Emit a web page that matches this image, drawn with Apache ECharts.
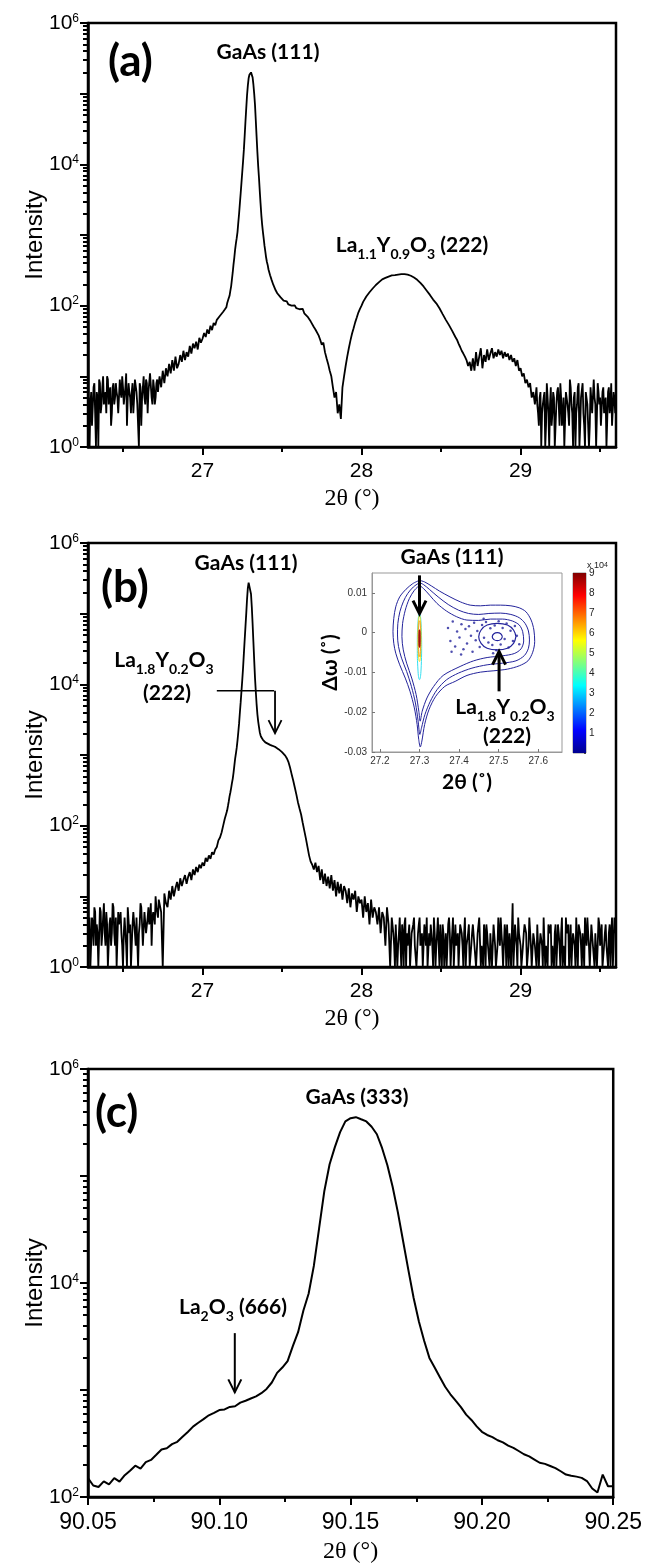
<!DOCTYPE html>
<html><head><meta charset="utf-8">
<script src="https://cdn.jsdelivr.net/npm/echarts@6.0.0/dist/echarts.min.js"></script>
<style>html,body{margin:0;padding:0;background:#fff}#c{width:645px;height:1567px}</style>
</head><body><div id="c"></div>
<script>
// ===================== DATA =====================
// Panel (a): 2theta scan, sampling grid (start, step) + intensities
const aLeftStart = 26.28, aLeftStep = 0.01;
const aLeftY = [3,1,
 6,2,8,1,5,9,3,7,4,6,
 10,4,7,3,8,5,6,3,9,5,
 7,4,11,5,6,3,8,5,9,4,
 1,7,5,10,4,8,6,11,5,9,
 4,8,6,10,7,12,8,13,10,15,
 11,17,12,19,13,15,20,16,23,17,
 22,19,27,21,29,25,31,24,35,30,
 34,41,36,46,40,52,45,57,53,63,
 66,72,76,82,88];
const aLeftMidStart = 26.285, aLeftMidStep = 0.01;
const aLeftMidY = [5,4,2,7,3,6,1,8,4,10, 5,3,9,6,2,7,4,8,5,3, 6,10,4,7,2,8,5,6,3,9, 6,4,8,2,7,5,9,3,6,11, 4,7,5,9,8];
const aPeakStart = 27.15, aPeakStep = 0.005;
const aPeakY = [95,108,110,128,138,162,188,235,295,385,
 480,620,760,900,1100,1500,2000,2800,3900,5500,
 7800,11000,16000,25000,40000,62000,95000,130000,165000,185000,
 197000,200000,192000,170000,135000,100000,70000,42000,25000,15000,
 9500,6500,4200,2800,1900,1400,1100,880,700,580,
 480,415,375,325,305,270,255,230,220,198,
 192];
const aRightStart = 27.46, aRightStep = 0.01;
const aRightY = [165,150,141,132,
 125,118,112,115,104,108,100,97,101,92,
 95,89,86,90,78,74,70,66,60,57,
 50,46,49,38,33,28,30,22,18,15,
 12,10,7,5,6,3,4,2.5,7,10,
 14,19,25,32,40,48,58,68,80,90,
 100,113,120,135,140,155,160,175,180,196,
 200,215,220,236,235,247,248,258,260,268,
 272,270,279,275,283,279,286,280,283,275,
 276,265,264,250,248,232,228,210,205,187,
 180,163,158,142,137,122,120,108,104,92,
 88,76,73,63,60,53,52,44,42,36,
 33,29,26,23,21,19,17,14,16,12,
 18,12,22,14,19,25,13,20,16,24,
 17,21,25,18,22,19,24,20,23,18,
 22,19,21,17,20,16,18,14,17,12,
 13,10,11,8,9,7,8,5,6,4,
 7,3,5,1,4,6,2,5,1,7,
 3,5,1,6,4,8,2,5,1,6,
 3,9,4,1,6,3,7,1,5,8,
 2,6,4,1,7,3,9,4,1,6,
 5,2,7,4,1,6,3,8,2,5,
 4];
const aTailMidStart = 29.105, aTailMidStep = 0.01;
const aTailMidY = [4,2,6,3,5,1,8,3,4,2, 6,1,4,7,2,5,3,1,6,4, 2,7,3,5,1,4,8,2,5,3, 1,6,4,2,7,3,5,1,8,4, 2,6,3,5,1,7,4,2,6,3];

// Panel (b)
const bLeftStart = 26.28, bLeftStep = 0.01;
const bLeftY = [2,5,
 1,4,7,2,3,1,6,3,8,2,
 4,1,5,3,7,2,1,6,4,3,
 1,5,2,7,3,1,4,6,2,5,
 3,8,4,2,6,3,7,5,2,6,
 4,7,5,9,6,1,11,8,7,12,
 9,14,10,13,16,12,18,14,17,20,
 15,19,22,17,24,20,26,22,28,25,
 30,27,35,31,38,34,42,39,46,50,
 62,68,80,100,125];
const bLeftMidStart = 26.285, bLeftMidStep = 0.01;
const bLeftMidY = [3,1,5,2,6,4,1,7,2,5, 3,6,1,4,2,8,3,5,1,4, 6,2,3,5,1,7,4,2,6,3, 5,1,4,7,2,6,3,5,4,8, 5,6,10,7,9];
const bPeakStart = 27.15, bPeakStep = 0.005;
const bPeakY = [150,165,190,220,260,295,340,400,460,560,
 700,880,1050,1260,1600,2100,2800,4000,5600,8000,
 11500,17000,27000,42000,65000,100000,160000,230000,275000,292000,
 265000,190000,124000,72000,40000,22000,12500,8000,5300,3800,
 3000,2500,2100,1900,1780,1700,1640,1590,1550,1510,
 1490,1470,1450,1430,1410,1390,1375,1360,1350,1330,
 1310];
const bRightStart = 27.46, bRightStep = 0.01;
const bRightY = [1290,1250,1200,1150,
 1100,1050,980,900,800,670,540,440,350,277,
 215,175,144,110,85,66,50,38,31,28,
 24,30,22,27,17,24,15,21,14,19,
 13,20,12,17,10,16,11,15,9,14,
 12,8,13,7,11,9,12,6,10,8,
 9,5,10,6,8,4,9,5,7,6,
 4,7,3,6,5,2,7,4,1,5,
 3,1,4,2,5,1,3,4,1,2,
 4,1,3,5,2,1,4,2,3,1,
 3,5,1,2,4,1,3,2,5,1,
 2,4,1,3,2,5,1,3,1,4,
 2,1,4,3,1,5,2,3,1,2,
 4,2,1,3,5,1,2,4,1,3,
 2,3,1,4,2,1,5,2,3,1,
 4,1,2,3,1,8,2,4,1,3,
 2,1,3,4,1,2,5,1,3,2,
 1,4,2,3,1,5,2,1,3,4,
 2,1,4,2,3,1,5,2,1,3,
 4,2,1,3,2,5,1,4,2,3,
 1,3,5,2,1,4,2,3,1,5,
 2,4,1,3,2,1,4,3,1,5,
 4];
const bTailMidStart = 28.205, bTailMidStep = 0.01;
const bTailMidY = [2,4,1,3,2,4,1,5,3,2, 1,3,4,2,1,3,5,2,1,4, 2,1,3,4,2,5,1,3,2,4, 1,3,2,1,4,3,2,5,1,2,
 3,1,4,2,3,1,2,4,1,3, 4,2,1,3,5,2,1,3,4,2, 1,3,2,4,1,2,3,5,2,1, 3,4,1,2,3,1,4,2,5,3,
 1,2,4,3,1,5,2,1,3,2, 4,1,3,2,5,1,2,4,3,1, 2,3,1,4,2,3,1,2,5,3, 1,4,2,3,1,2,4,3,1,2,
 5,2,3,1,4,2,1,3,2,4, 3,1,2,4,2,3,1,5,2,3];

// Panel (c)
const cStart = 90.05, cStep = 0.002;
const cY = [150,128,124,140,131,150,139,160,176,196,
 184,212,222,248,278,285,312,328,366,405,
 455,494,534,580,612,650,658,695,705,762,
 794,832,871,933,1023,1175,1445,1622,1862,2570,
 3467,5500,7943,14450,32360,72440,128800,186200,257000,323600,
 346700,354800,338800,323600,288400,245500,182000,125900,79430,45700,
 24550,13180,7244,4365,2884,1995,1622,1318,1072,912,
 794,692,589,525,457,407,380,363,339,324,
 302,288,269,251,240,224,209,204,195,186,
 174,162,158,155,151,141,120,110,162,126,
 126];

// Inset (b): contour lines (2theta, delta-omega)
const insetC1 = [[27.300,0.01317],[27.283,0.01233],[27.266,0.01092],[27.250,0.00900],[27.240,0.00650],[27.235,0.00358],[27.233,0.00025],[27.235,-0.00267],[27.240,-0.00517],[27.250,-0.00808],[27.264,-0.01142],[27.276,-0.01475],[27.287,-0.01892],[27.294,-0.02308],[27.298,-0.02683],[27.302,-0.02875],[27.306,-0.02725],[27.313,-0.02308],[27.324,-0.01933],[27.341,-0.01600],[27.364,-0.01350],[27.390,-0.01225],[27.420,-0.01075],[27.454,-0.00992],[27.488,-0.00958],[27.522,-0.00917],[27.552,-0.00833],[27.574,-0.00708],[27.586,-0.00492],[27.591,-0.00225],[27.589,0.00067],[27.582,0.00317],[27.569,0.00525],[27.552,0.00625],[27.531,0.00675],[27.505,0.00692],[27.479,0.00692],[27.454,0.00675],[27.428,0.00692],[27.403,0.00775],[27.377,0.00900],[27.351,0.01042],[27.330,0.01175],[27.313,0.01275],[27.300,0.01317]];
const insetC2 = [[27.3000,0.01258],[27.2846,0.01150],[27.2701,0.00983],[27.2590,0.00775],[27.2504,0.00525],[27.2453,0.00233],[27.2444,-0.00058],[27.2470,-0.00350],[27.2547,-0.00642],[27.2675,-0.00975],[27.2795,-0.01350],[27.2897,-0.01767],[27.2966,-0.02225],[27.3009,-0.02558],[27.3051,-0.02392],[27.3137,-0.02058],[27.3274,-0.01725],[27.3444,-0.01433],[27.3684,-0.01183],[27.3983,-0.01017],[27.4325,-0.00892],[27.4709,-0.00808],[27.5094,-0.00767],[27.5436,-0.00708],[27.5650,-0.00575],[27.5752,-0.00392],[27.5778,-0.00183],[27.5752,0.00042],[27.5667,0.00233],[27.5521,0.00375],[27.5308,0.00458],[27.5051,0.00492],[27.4752,0.00483],[27.4496,0.00458],[27.4239,0.00483],[27.3983,0.00567],[27.3726,0.00708],[27.3470,0.00900],[27.3256,0.01083],[27.3103,0.01208],[27.3000,0.01258]];
const insetC3 = [[27.3000,0.01192],[27.2872,0.01067],[27.2744,0.00858],[27.2641,0.00567],[27.2573,0.00233],[27.2556,-0.00100],[27.2590,-0.00433],[27.2675,-0.00767],[27.2803,-0.01142],[27.2915,-0.01558],[27.2983,-0.01975],[27.3017,-0.02225],[27.3068,-0.01975],[27.3188,-0.01642],[27.3359,-0.01350],[27.3598,-0.01075],[27.4026,-0.00850],[27.4368,-0.00708],[27.4709,-0.00625],[27.5094,-0.00583],[27.5393,-0.00525],[27.5564,-0.00408],[27.5632,-0.00208],[27.5607,0.00025],[27.5521,0.00192],[27.5350,0.00292],[27.5094,0.00342],[27.4795,0.00342],[27.4496,0.00308],[27.4197,0.00317],[27.3940,0.00400],[27.3684,0.00542],[27.3444,0.00733],[27.3256,0.00942],[27.3103,0.01108],[27.3000,0.01192]];
const insetR1 = [[27.5436,-0.00100],[27.5376,0.00067],[27.5222,0.00192],[27.4966,0.00233],[27.4709,0.00192],[27.4556,0.00067],[27.4496,-0.00100],[27.4556,-0.00267],[27.4709,-0.00392],[27.4966,-0.00433],[27.5222,-0.00392],[27.5376,-0.00267],[27.5436,-0.00100]];
const insetR2 = [[27.5094,-0.00100],[27.5051,-0.00025],[27.4966,0.00000],[27.4880,-0.00025],[27.4838,-0.00100],[27.4880,-0.00175],[27.4966,-0.00200],[27.5051,-0.00175],[27.5094,-0.00100]];
const insetCyan = [[27.3055,-0.0035],[27.3039,0.0024],[27.3,0.0048],[27.2961,0.0024],[27.2945,-0.0035],[27.2961,-0.0094],[27.3,-0.0118],[27.3039,-0.0094],[27.3055,-0.0035]];
const insetYellow = [[27.304,-0.00145],[27.3028,0.00265],[27.3,0.00435],[27.2972,0.00265],[27.296,-0.00145],[27.2972,-0.00555],[27.3,-0.00725],[27.3028,-0.00555],[27.304,-0.00145]];
const insetOrange = [[27.303,-0.0015],[27.3021,0.0017],[27.3,0.003],[27.2979,0.0017],[27.297,-0.0015],[27.2979,-0.0047],[27.3,-0.006],[27.3021,-0.0047],[27.303,-0.0015]];
const insetRed = [[27.3015,-0.0015],[27.3011,0.0001],[27.3,0.0007],[27.2989,0.0001],[27.2985,-0.0015],[27.2989,-0.0031],[27.3,-0.0037],[27.3011,-0.0031],[27.3015,-0.0015]];
const insetDots = [[27.372,0.0012],[27.378,-0.0021],[27.384,0.0028],[27.39,-0.0035],[27.395,0.0003],[27.401,-0.0012],[27.406,0.0021],[27.411,-0.0042],[27.416,0.0009],[27.42,-0.0027],[27.425,0.0016],[27.43,-0.0008],[27.434,-0.0048],[27.438,0.0025],[27.442,-0.0019],[27.446,0.0004],[27.452,-0.0036],[27.458,0.0019],[27.463,-0.0013],[27.468,0.0027],[27.474,-0.0025],[27.479,0.0011],[27.484,-0.0031],[27.49,0.0018],[27.494,-0.0044],[27.5,0.0029],[27.505,-0.0030],[27.51,0.0012],[27.515,-0.0016],[27.52,0.0023],[27.525,-0.0037],[27.53,0.0005],[27.536,-0.0021],[27.541,0.0017],[27.546,-0.0008],[27.552,-0.0029],[27.381,-0.0048],[27.405,-0.0055],[27.462,0.0035],[27.486,-0.0052]];
const colorbarMax = [9];

// Tick values / labels
const abXLabels = [27, 28, 29];
const abXMinor = [26.5, 27.5, 28.5, 29.5];
const cXLabels = [90.05, 90.10, 90.15, 90.20, 90.25];
const cXMinor = [90.075, 90.125, 90.175, 90.225];
const abYLabels = [1, 100, 1e4, 1e6];
const abYMajor = [1, 10, 100, 1e3, 1e4, 1e5, 1e6];
const cYLabels = [100, 1e4, 1e6];
const cYMajor = [100, 1e3, 1e4, 1e5, 1e6];
const insetXLabels = [27.2, 27.3, 27.4, 27.5, 27.6];
const insetYLabels = [-0.03, -0.02, -0.01, 0, 0.01];
const colorbarLabels = [1,2,3,4,5,6,7,8,9];

// ===================== BUILD =====================
function seg(start, step, ys) { return ys.map((y, i) => [+(start + i * step).toFixed(4), y]); }
function merge() { const all = [].concat(...arguments); all.sort((p, q) => p[0] - q[0]); return all; }
const aData = merge(seg(aLeftStart, aLeftStep, aLeftY), seg(aLeftMidStart, aLeftMidStep, aLeftMidY), seg(aPeakStart, aPeakStep, aPeakY),
  seg(aRightStart, aRightStep, aRightY), seg(aTailMidStart, aTailMidStep, aTailMidY));
const bData = merge(seg(bLeftStart, bLeftStep, bLeftY), seg(bLeftMidStart, bLeftMidStep, bLeftMidY), seg(bPeakStart, bPeakStep, bPeakY),
  seg(bRightStart, bRightStep, bRightY), seg(bTailMidStart, bTailMidStep, bTailMidY));
const cData = seg(cStart, cStep, cY);

function minorLog(from, to) { const r = []; for (let e = from; e < to; e++) for (let m = 2; m <= 9; m++) r.push(m * Math.pow(10, e)); return r; }

const SANS = '"Liberation Sans", Arial, sans-serif';
const SERIF = '"Liberation Serif", "Times New Roman", serif';
const BOLDF = 'Lato, "Open Sans", sans-serif';

const yRich = { b: { fontSize: 21, fontFamily: SANS, color: '#000' }, p: { fontSize: 12, fontFamily: SANS, color: '#000', verticalAlign: 'top' } };
function supLabel(v) { return '{b|10}{p|' + Math.round(Math.log10(v)) + '}'; }

function mainX(gi, min, max, labels, fmt, fs, gap) {
  return { type: 'value', gridIndex: gi, min, max, position: 'bottom',
    axisLine: { show: true, onZero: false, lineStyle: { color: '#000', width: 2.5 } },
    axisTick: { show: true, customValues: labels, length: 8, lineStyle: { color: '#000', width: 2 } },
    axisLabel: { customValues: labels, fontSize: fs, fontFamily: SANS, color: '#000', margin: 14, formatter: fmt },
    splitLine: { show: false },
    name: '2θ (°)', nameLocation: 'middle', nameGap: gap, nameTextStyle: { fontFamily: SERIF, fontSize: 24, color: '#000' } };
}
function minorX(gi, min, max, ticks) {
  return { type: 'value', gridIndex: gi, min, max, position: 'bottom',
    axisLine: { show: false, onZero: false }, axisTick: { show: true, customValues: ticks, length: 5, lineStyle: { color: '#000', width: 2 } },
    axisLabel: { show: false, customValues: ticks }, splitLine: { show: false } };
}
function mainY(gi, min, max, labels, major) {
  return { type: 'log', logBase: 10, gridIndex: gi, min, max, position: 'left',
    axisLine: { show: true, onZero: false, lineStyle: { color: '#000', width: 2.5 } },
    axisTick: { show: true, customValues: major, length: 8, lineStyle: { color: '#000', width: 2 } },
    axisLabel: { customValues: labels, formatter: supLabel, rich: yRich, margin: 9 },
    splitLine: { show: false },
    name: 'Intensity', nameLocation: 'middle', nameGap: 41, nameMoveOverlap: false, nameRotate: 90,
    nameTextStyle: { fontFamily: SANS, fontSize: 24, color: '#000' } };
}
function minorY(gi, min, max, ticks) {
  return { type: 'log', logBase: 10, gridIndex: gi, min, max, position: 'left',
    axisLine: { show: false, onZero: false }, axisTick: { show: true, customValues: ticks, length: 5, lineStyle: { color: '#000', width: 2 } },
    axisLabel: { show: false, customValues: ticks }, splitLine: { show: false } };
}
const frame = { show: true, borderColor: '#000', borderWidth: 2.5, backgroundColor: 'transparent' };

const option = {
  animation: false,
  backgroundColor: '#fff',
  grid: [
    Object.assign({ left: 88, top: 23, width: 528, height: 424 }, frame),
    Object.assign({ left: 88, top: 543, width: 528, height: 424 }, frame),
    Object.assign({ left: 88, top: 1069, width: 529, height: 428 }, frame),
    { left: 372, top: 573, width: 190, height: 179, show: true, borderColor: '#999', borderWidth: 1, backgroundColor: '#fff' },
    { left: 573, top: 573, width: 13, height: 180, show: true, borderColor: '#444', borderWidth: 0.6, backgroundColor: 'transparent' }
  ],
  xAxis: [
    mainX(0, 26.28, 29.6, abXLabels, v => String(Math.round(v)), 21, 40),
    minorX(0, 26.28, 29.6, abXMinor),
    mainX(1, 26.28, 29.6, abXLabels, v => String(Math.round(v)), 21, 40),
    minorX(1, 26.28, 29.6, abXMinor),
    mainX(2, 90.05, 90.25, cXLabels, v => v.toFixed(2), 23, 43),
    minorX(2, 90.05, 90.25, cXMinor),
    { type: 'value', gridIndex: 3, min: 27.18, max: 27.66, position: 'bottom',
      axisLine: { onZero: false, lineStyle: { color: '#999', width: 1 } },
      axisTick: { inside: true, length: 3, customValues: insetXLabels, lineStyle: { color: '#777' } },
      axisLabel: { customValues: insetXLabels, fontSize: 10, fontFamily: SANS, color: '#333', margin: 4, formatter: v => v.toFixed(1) },
      splitLine: { show: false },
      name: '2θ (˚)', nameLocation: 'middle', nameGap: 20, nameTextStyle: { fontFamily: BOLDF, fontWeight: 'bold', fontSize: 21, color: '#000', verticalAlign: 'top' } },
    { type: 'category', gridIndex: 4, data: ['cb'], show: false }
  ],
  yAxis: [
    mainY(0, 1, 1e6, abYLabels, abYMajor),
    minorY(0, 1, 1e6, minorLog(0, 6)),
    mainY(1, 1, 1e6, abYLabels, abYMajor),
    minorY(1, 1, 1e6, minorLog(0, 6)),
    mainY(2, 100, 1e6, cYLabels, cYMajor),
    minorY(2, 100, 1e6, minorLog(2, 6)),
    { type: 'value', gridIndex: 3, min: -0.03, max: 0.015, position: 'left',
      axisLine: { onZero: false, lineStyle: { color: '#999', width: 1 } },
      axisTick: { inside: true, length: 3, customValues: insetYLabels, lineStyle: { color: '#777' } },
      axisLabel: { customValues: insetYLabels, fontSize: 10, fontFamily: SANS, color: '#333', margin: 5, formatter: v => (Math.abs(v) < 1e-9 ? '0' : v.toFixed(2)) },
      splitLine: { show: false },
      name: 'Δω (˚)', nameLocation: 'middle', nameGap: 27, nameRotate: 90, nameTextStyle: { fontFamily: BOLDF, fontWeight: 'bold', fontSize: 21, color: '#000' } },
    { type: 'value', gridIndex: 4, min: 0, max: 9, interval: 1, position: 'right',
      axisLine: { show: false }, axisTick: { show: true, inside: true, length: 2, lineStyle: { color: '#444' } },
      axisLabel: { fontSize: 10, fontFamily: SANS, color: '#222', margin: 3, formatter: v => (colorbarLabels.indexOf(v) >= 0 ? String(v) : '') },
      splitLine: { show: false } }
  ],
  series: [
    { type: 'line', xAxisIndex: 0, yAxisIndex: 0, data: aData, symbol: 'none', lineStyle: { color: '#000', width: 1.8 }, clip: true },
    { type: 'line', xAxisIndex: 2, yAxisIndex: 2, data: bData, symbol: 'none', lineStyle: { color: '#000', width: 1.8 }, clip: true },
    { type: 'line', xAxisIndex: 4, yAxisIndex: 4, data: cData, symbol: 'none', lineStyle: { color: '#000', width: 2 }, clip: true },
    { type: 'line', xAxisIndex: 6, yAxisIndex: 6, data: insetC1, symbol: 'none', smooth: 0.3, lineStyle: { color: '#23239b', width: 1 } },
    { type: 'line', xAxisIndex: 6, yAxisIndex: 6, data: insetC2, symbol: 'none', smooth: 0.3, lineStyle: { color: '#23239b', width: 1 } },
    { type: 'line', xAxisIndex: 6, yAxisIndex: 6, data: insetC3, symbol: 'none', smooth: 0.3, lineStyle: { color: '#23239b', width: 1 } },
    { type: 'line', xAxisIndex: 6, yAxisIndex: 6, data: insetR1, symbol: 'none', smooth: 0.4, lineStyle: { color: '#23239b', width: 1.2 } },
    { type: 'line', xAxisIndex: 6, yAxisIndex: 6, data: insetR2, symbol: 'none', smooth: 0.4, lineStyle: { color: '#23239b', width: 1.2 } },
    { type: 'scatter', xAxisIndex: 6, yAxisIndex: 6, data: insetDots, symbolSize: 2.5, itemStyle: { color: '#23239b' } },
    { type: 'line', xAxisIndex: 6, yAxisIndex: 6, data: insetCyan, symbol: 'none', smooth: 0.5, lineStyle: { color: '#33e0f0', width: 1 } },
    { type: 'line', xAxisIndex: 6, yAxisIndex: 6, data: insetYellow, symbol: 'none', smooth: 0.5, lineStyle: { color: '#f0e020', width: 1 } },
    { type: 'line', xAxisIndex: 6, yAxisIndex: 6, data: insetOrange, symbol: 'none', smooth: 0.5, lineStyle: { color: '#f5a020', width: 1 } },
    { type: 'line', xAxisIndex: 6, yAxisIndex: 6, data: insetRed, symbol: 'none', smooth: 0.5, lineStyle: { color: '#a01010', width: 1.2 } },
    { type: 'bar', xAxisIndex: 7, yAxisIndex: 7, data: colorbarMax, barWidth: '100%',
      itemStyle: { color: new echarts.graphic.LinearGradient(0, 1, 0, 0, [
        { offset: 0, color: '#00008f' }, { offset: 0.125, color: '#0000ff' }, { offset: 0.375, color: '#00ffff' },
        { offset: 0.5, color: '#7fff7f' }, { offset: 0.625, color: '#ffff00' }, { offset: 0.875, color: '#ff0000' }, { offset: 1, color: '#800000' } ]) } }
  ]
};

const chart = echarts.init(document.getElementById('c'), null, { renderer: 'canvas', width: 645, height: 1567 });
chart.setOption(option);

// ===================== ANNOTATIONS =====================
function label(x, y, str, size, align) {
  const sub = Math.round(size * 0.67);
  return { type: 'text', x, y, z: 100, style: { text: str, align: align || 'center', verticalAlign: 'middle', fill: '#000',
    fontFamily: BOLDF, fontWeight: 'bold', fontSize: size,
    rich: { n: { fontFamily: BOLDF, fontWeight: 'bold', fontSize: size, fill: '#000', verticalAlign: 'bottom', padding: [0, 0, 5, 0] },
            s: { fontFamily: BOLDF, fontWeight: 'bold', fontSize: sub, fill: '#000', verticalAlign: 'bottom' } } } };
}
function px(xi, yi, pt) { return chart.convertToPixel({ xAxisIndex: xi, yAxisIndex: yi }, pt); }
function arrow(p1, p2, w, head) {
  const dx = p2[0] - p1[0], dy = p2[1] - p1[1], L = Math.hypot(dx, dy), ux = dx / L, uy = dy / L;
  const bx = p2[0] - ux * head, by = p2[1] - uy * head, nx = -uy * head * 0.5, ny = ux * head * 0.5;
  return [
    { type: 'line', z: 100, shape: { x1: p1[0], y1: p1[1], x2: p2[0], y2: p2[1] }, style: { stroke: '#000', lineWidth: w } },
    { type: 'polyline', z: 100, shape: { points: [[bx + nx, by + ny], [p2[0], p2[1]], [bx - nx, by - ny]] }, style: { stroke: '#000', lineWidth: w, fill: null } }
  ];
}
const g = [];
g.push(label(108, 62, '(a)', 44, 'left'));
g.push(label(268, 52, 'GaAs (111)', 21));
g.push(label(412, 248, '{n|La}{s|1.1}{n|Y}{s|0.9}{n|O}{s|3}{n| (222)}', 21));
g.push(label(101, 588, '(b)', 44, 'left'));
g.push(label(246, 563, 'GaAs (111)', 21));
g.push(label(164, 663, '{n|La}{s|1.8}{n|Y}{s|0.2}{n|O}{s|3}', 21));
g.push(label(167, 693, '(222)', 21));
g.push(label(452, 557, 'GaAs (111)', 21));
g.push(label(505, 710, '{n|La}{s|1.8}{n|Y}{s|0.2}{n|O}{s|3}', 21));
g.push(label(507, 736, '(222)', 21));
g.push(label(95, 1113, '(c)', 44, 'left'));
g.push(label(357, 1097, 'GaAs (333)', 21));
g.push(label(233, 1310, '{n|La}{s|2}{n|O}{s|3}{n| (666)}', 21));
g.push({ type: 'text', x: 587, y: 566, z: 100, style: { text: '{a|x 10}{p|4}', align: 'left', verticalAlign: 'middle', fill: '#222',
  rich: { a: { fontSize: 9, fontFamily: SANS, fill: '#222' }, p: { fontSize: 7, fontFamily: SANS, fill: '#222', verticalAlign: 'top' } } } });
// (b) horizontal leader + arrow
const h1 = px(2, 2, [27.09, 8130]), h2 = px(2, 2, [27.45, 8130]);
g.push({ type: 'line', z: 100, shape: { x1: h1[0], y1: h1[1], x2: h2[0], y2: h2[1] }, style: { stroke: '#000', lineWidth: 1.6 } });
g.push(...arrow(px(2, 2, [27.456, 8130]), px(2, 2, [27.456, 2040]), 1.8, 13));
// inset arrows
g.push(...arrow(px(6, 6, [27.3, 0.0144]), px(6, 6, [27.3, 0.0048]), 3, 13));
g.push(...arrow(px(6, 6, [27.501, -0.01475]), px(6, 6, [27.501, -0.00475]), 3, 13));
// (c) arrow
g.push(...arrow(px(4, 4, [90.1059, 3400]), px(4, 4, [90.1059, 950]), 2, 13));
chart.setOption({ graphic: g });
</script>
</body></html>
